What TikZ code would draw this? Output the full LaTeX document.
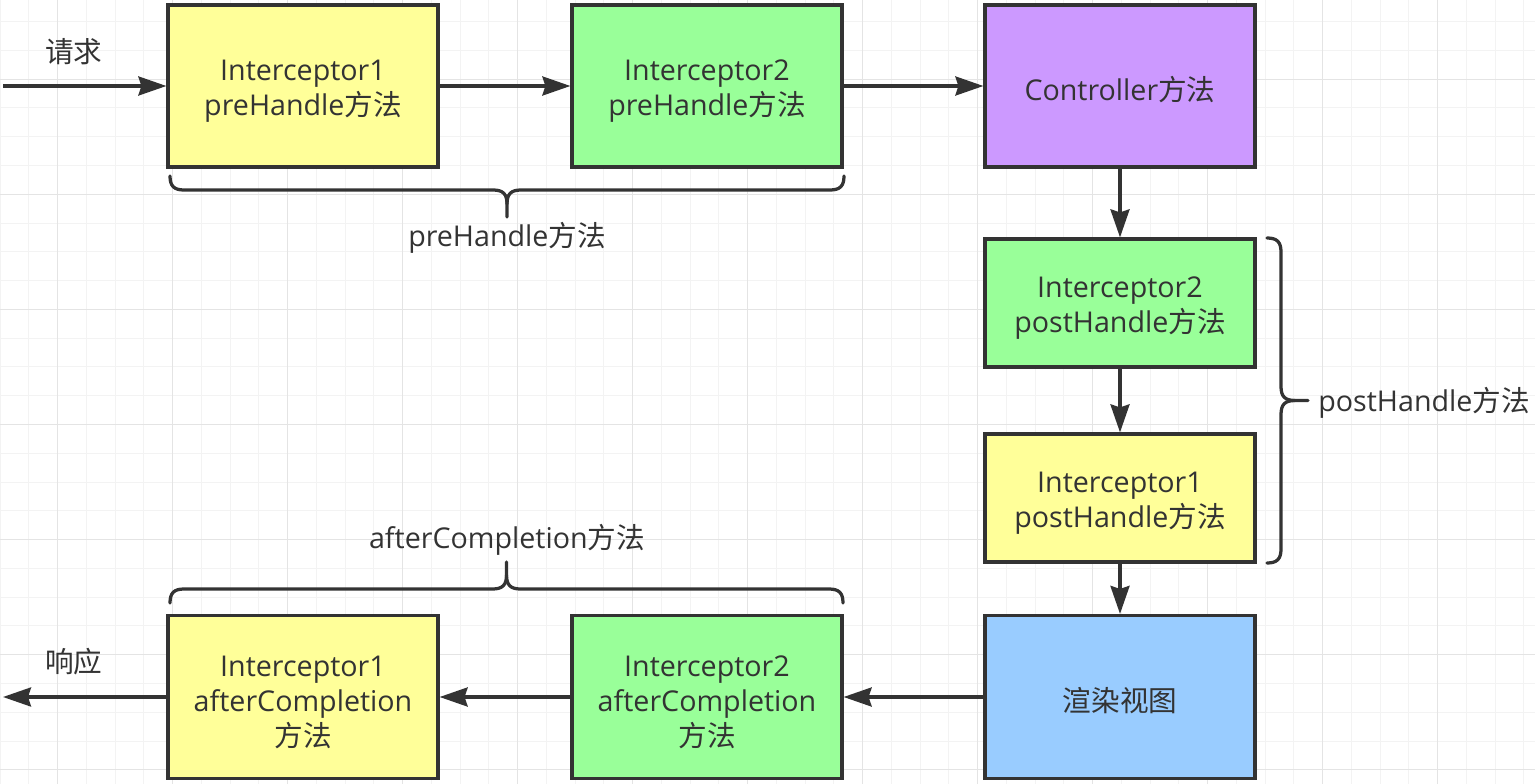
\documentclass[tikz,border=0pt]{standalone}
\usepackage{fontspec}
\setmainfont{Open Sans}
\newfontfamily\cjk{Noto Sans CJK SC}
\usetikzlibrary{arrows.meta,positioning}
\definecolor{inkgrey}{HTML}{333333}
\definecolor{boxyellow}{HTML}{FFFF99}
\definecolor{boxgreen}{HTML}{99FF99}
\definecolor{boxpurple}{HTML}{CC99FF}
\definecolor{boxblue}{HTML}{99CCFF}
\definecolor{gridminor}{HTML}{F3F3F3}
\definecolor{gridmajor}{HTML}{E4E4E4}
\tikzset{
  stagebox/.style={draw=inkgrey, line width=0.065cm, minimum width=5.4cm,
    text width=5.2cm, align=center, inner sep=0pt, text=inkgrey,
    font=\fontsize{16.3}{20}\selectfont,
    execute at begin node={\par\vspace*{-0.08cm}}},
  flow/.style={draw=inkgrey, line width=0.065cm,
    -{Stealth[length=0.56cm,width=0.38cm,inset=0.06cm]}},
  bracestroke/.style={draw=inkgrey, line width=0.065cm, line cap=round},
  tag/.style={text=inkgrey, inner sep=0pt, font=\fontsize{16.3}{20}\selectfont},
}
\newcommand{\drawbrace}[4]{% {x}{y}{angle}{length}
  \begin{scope}[shift={(#1,#2)},rotate=#3]
    % first half, ends in the tip
    \draw[bracestroke] (0,0) .. controls (0,10) and (4,14) .. (14,14)
      -- ({#4/2-14},14) .. controls ({#4/2-4},14) and ({#4/2},18) .. ({#4/2},28)
      -- ({#4/2},41);
    % second half
    \draw[bracestroke] ({#4/2},28) .. controls ({#4/2},18) and ({#4/2+4},14) .. ({#4/2+14},14)
      -- ({#4-14},14) .. controls ({#4-4},14) and (#4,10) .. (#4,0);
  \end{scope}
}

\begin{document}
\begin{tikzpicture}[x=0.02cm,y=-0.02cm]
  \useasboundingbox (0,0) rectangle (1535,784);
  % Grid
  \fill[white] (0,0) rectangle (1535,784);
  \foreach \k in {0,...,53} \draw[gridminor,line width=0.02cm] ({28.75*\k},0) -- ({28.75*\k},784);
  \foreach \k in {0,...,26} \draw[gridminor,line width=0.02cm] (0,{21.6+28.78*\k}) -- (1535,{21.6+28.78*\k});
  \foreach \k in {2,6,...,50} \draw[gridmajor,line width=0.02cm] ({28.75*\k},0) -- ({28.75*\k},784);
  \foreach \k in {2,6,...,26} \draw[gridmajor,line width=0.02cm] (0,{21.6+28.78*\k}) -- (1535,{21.6+28.78*\k});

  % Top row
  \node[stagebox,fill=boxyellow,minimum height=3.24cm] (pre1) at (303,86) {Interceptor1\\preHandle{\cjk 方法}};
  \node[stagebox,fill=boxgreen,minimum height=3.24cm] (pre2) at (707,86) {Interceptor2\\preHandle{\cjk 方法}};
  \node[stagebox,fill=boxpurple,minimum height=3.24cm] (ctrl) at (1120,86) {Controller{\cjk 方法}};
  % Right column
  \node[stagebox,fill=boxgreen,minimum height=2.56cm] (post2) at (1120,303) {Interceptor2\\postHandle{\cjk 方法}};
  \node[stagebox,fill=boxyellow,minimum height=2.56cm] (post1) at (1120,498) {Interceptor1\\postHandle{\cjk 方法}};
  % Bottom row
  \node[stagebox,fill=boxblue,minimum height=3.26cm] (render) at (1120,697) {\cjk 渲染视图};
  \node[stagebox,fill=boxgreen,minimum height=3.26cm] (after2) at (707,697) {Interceptor2\\afterCompletion\\{\cjk 方法}};
  \node[stagebox,fill=boxyellow,minimum height=3.26cm] (after1) at (303,697) {Interceptor1\\afterCompletion\\{\cjk 方法}};

  \coordinate (reqin) at (3,86);
  \coordinate (respout) at (3,697);
  \node[tag] (req) at (74,52) {\cjk 请求};
  \node[tag] (resp) at (74,662) {\cjk 响应};

  \draw[flow] (reqin) -- (pre1);
  \draw[flow] (pre1) -- (pre2);
  \draw[flow] (pre2) -- (ctrl);
  \draw[flow] (ctrl) -- (post2);
  \draw[flow] (post2) -- (post1);
  \draw[flow] (post1) -- (render);
  \draw[flow] (render) -- (after2);
  \draw[flow] (after2) -- (after1);
  \draw[flow] (after1) -- (respout);

  % Braces
  \drawbrace{170}{176}{0}{674}
  \node[tag] (prelabel) at (507,238) {preHandle{\cjk 方法}};
  \drawbrace{1267}{563}{90}{325}
  \node[tag,anchor=west] (postlabel) at (1318,403) {postHandle{\cjk 方法}};
  \drawbrace{843}{603}{180}{673}
  \node[tag] (afterlabel) at (507,540) {afterCompletion{\cjk 方法}};
\end{tikzpicture}
\end{document}
